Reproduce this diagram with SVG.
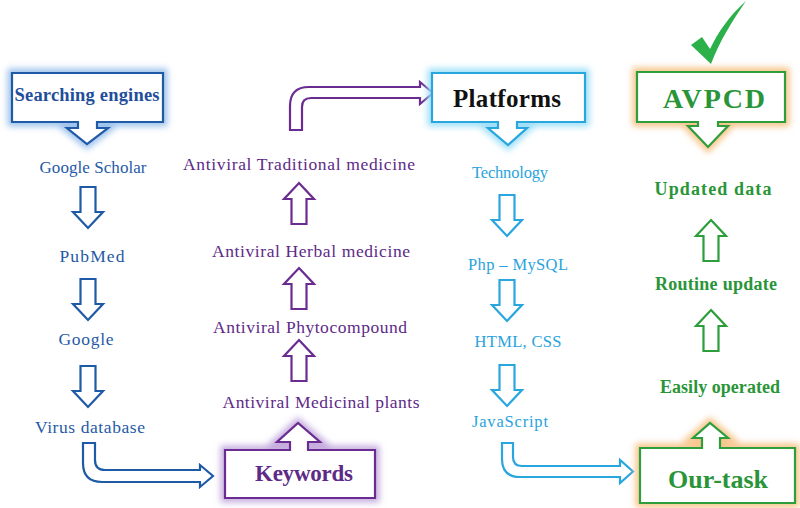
<svg xmlns="http://www.w3.org/2000/svg" xmlns:xlink="http://www.w3.org/1999/xlink" width="800" height="508" viewBox="0 0 800 508" font-family="'Liberation Serif', Tinos, 'Times New Roman', Times, serif">
<defs>
<style>
text{font-family:'Liberation Serif',Tinos,'Times New Roman',Times,serif;text-anchor:middle}
.b{font-weight:bold}
.blue{fill:#fff;stroke:#1f5aa6;stroke-width:2.2}
.purple{fill:#fff;stroke:#6a2c91;stroke-width:2.2}
.cyan{fill:#fff;stroke:#2aa6df;stroke-width:2.2}
.green{fill:#fff;stroke:#2e9e3c;stroke-width:2.2}
.tblue{fill:#1f5aa6}
.tpurple{fill:#5e2a88}
.tcyan{fill:#2aa3dc}
.tgreen{fill:#2a9538}
.glow{fill:none;stroke-width:9;filter:url(#blur)}
</style>
<filter id="blur" x="-20%" y="-30%" width="140%" height="160%"><feGaussianBlur stdDeviation="3"/></filter>
<path id="arDown" d="M-7.5,0 H7.5 V25 H15 L0,41 L-15,25 H-7.5 Z"/>
<path id="arUp" d="M0,0 L15,16 H7.5 V41 H-7.5 V16 H-15 Z"/>
</defs>
<rect width="800" height="508" fill="#fff"/>

<g id="connectors">
<use xlink:href="#arDown" x="88" y="187" class="blue"/>
<use xlink:href="#arDown" x="88" y="279" class="blue"/>
<use xlink:href="#arDown" x="88" y="366" class="blue"/>
<path class="blue" d="M83,443 H95 V460 Q95,470 105,470 H200 V465 L213,476 L200,487 V482 H102 Q83,482 83,463 Z"/>
<use xlink:href="#arUp" x="299" y="340" class="purple"/>
<use xlink:href="#arUp" x="299" y="268" class="purple"/>
<use xlink:href="#arUp" x="299" y="183" class="purple"/>
<path class="purple" d="M290,130 V106 Q290,87 309,87 H420 V82 L433,93 L420,104 V98 H311 Q302,98 302,107 V130 Z"/>
<use xlink:href="#arDown" x="507" y="195" class="cyan"/>
<use xlink:href="#arDown" x="507" y="280" class="cyan"/>
<use xlink:href="#arDown" x="507" y="365" class="cyan"/>
<path class="cyan" d="M502,443 H513 V457 Q513,466 522,466 H620 V460 L633,471.5 L620,483 V477 H520 Q502,477 502,459 Z"/>
<use xlink:href="#arUp" x="711" y="310" class="green"/>
<use xlink:href="#arUp" x="711" y="220" class="green"/>
</g>

<g id="searching-engines">
<path d="M12,73 H163 V122 H97 V128 H108 L87,144 L67,128 H78 V122 H12 Z" fill="#fff"/>
<path class="glow" stroke="#9fc3ec" d="M12,73 H163 V122 H97 V128 H108 L87,144 L67,128 H78 V122 H12 Z"/>
<path class="blue" stroke="#2b5797" stroke-width="3" fill="none" d="M12,73 H163 V122 H97 V128 H108 L87,144 L67,128 H78 V122 H12 Z"/>
<text class="b" x="87" y="101" font-size="18.5" fill="#1f4e9a" textLength="145" lengthAdjust="spacing">Searching engines</text>
</g>
<g id="google-scholar"><text class="tblue" x="93" y="173" font-size="17" textLength="107">Google Scholar</text></g>
<g id="pubmed"><text class="tblue" x="92" y="262" font-size="17.5" textLength="65">PubMed</text></g>
<g id="google"><text class="tblue" x="86" y="345" font-size="17.5" textLength="55">Google</text></g>
<g id="virus-database"><text class="tblue" x="90" y="433" font-size="17.5" textLength="110">Virus database</text></g>

<g id="keywords">
<path d="M225,450 H290 V442 H277 L298,423 L320,442 H308 V450 H375 V498 H225 Z" fill="#fff"/>
<path class="glow" stroke="#c6addf" d="M225,450 H290 V442 H277 L298,423 L320,442 H308 V450 H375 V498 H225 Z"/>
<path class="purple" stroke="#7030a0" stroke-width="3" fill="none" d="M225,450 H290 V442 H277 L298,423 L320,442 H308 V450 H375 V498 H225 Z"/>
<text class="b tpurple" x="304" y="481" font-size="23" textLength="98">Keywords</text>
</g>
<g id="medicinal-plants"><text class="tpurple" x="321" y="408" font-size="17.5" textLength="197">Antiviral Medicinal plants</text></g>
<g id="phytocompound"><text class="tpurple" x="310" y="333" font-size="17.5" textLength="194">Antiviral Phytocompound</text></g>
<g id="herbal-medicine"><text class="tpurple" x="311" y="257" font-size="17.5" textLength="198">Antiviral Herbal medicine</text></g>
<g id="traditional-medicine"><text class="tpurple" x="299" y="170" font-size="17.5" textLength="232">Antiviral Traditional medicine</text></g>

<g id="platforms">
<path d="M432,73 H585 V122 H517 V128 H527 L508,145 L488,128 H498 V122 H432 Z" fill="#fff"/>
<path class="glow" stroke="#9fe0f8" d="M432,73 H585 V122 H517 V128 H527 L508,145 L488,128 H498 V122 H432 Z"/>
<path class="cyan" stroke-width="3" fill="none" d="M432,73 H585 V122 H517 V128 H527 L508,145 L488,128 H498 V122 H432 Z"/>
<text class="b" x="507" y="107" font-size="25" fill="#111" textLength="108">Platforms</text>
</g>
<g id="technology"><text class="tcyan" x="510" y="178" font-size="16.5" textLength="76">Technology</text></g>
<g id="php-mysql"><text class="tcyan" x="518" y="270" font-size="16.5" textLength="100">Php – MySQL</text></g>
<g id="html-css"><text class="tcyan" x="518" y="347" font-size="16.5" textLength="87">HTML, CSS</text></g>
<g id="javascript"><text class="tcyan" x="510" y="427" font-size="16.5" textLength="76">JavaScript</text></g>

<g id="avpcd">
<path d="M691,45 L702,37 L710,49 C718,32 730,15 746,1 C733,20 720,40 711,64 Z" fill="#2bb04a"/>
<path d="M637,72 H785 V122 H718 V126 H728 L708,147 L688,126 H698 V122 H637 Z" fill="#fff"/>
<path class="glow" stroke="#f7c48a" d="M637,72 H785 V122 H718 V126 H728 L708,147 L688,126 H698 V122 H637 Z"/>
<path class="green" stroke-width="3" fill="none" d="M637,72 H785 V122 H718 V126 H728 L708,147 L688,126 H698 V122 H637 Z"/>
<text class="b tgreen" x="714" y="108" font-size="28" textLength="102">AVPCD</text>
</g>
<g id="updated-data"><text class="b tgreen" x="713" y="195" font-size="18" textLength="117">Updated data</text></g>
<g id="routine-update"><text class="b tgreen" x="716" y="290" font-size="18" textLength="122">Routine update</text></g>
<g id="easily-operated"><text class="b tgreen" x="720" y="393" font-size="18" textLength="120">Easily operated</text></g>
<g id="our-task">
<path d="M640,448 H702 V438 H693 L710,423 L728,438 H720 V448 H795 V503 H640 Z" fill="#fff"/>
<path class="glow" stroke="#f7c48a" d="M640,448 H702 V438 H693 L710,423 L728,438 H720 V448 H795 V503 H640 Z"/>
<path class="green" stroke-width="3" fill="none" d="M640,448 H702 V438 H693 L710,423 L728,438 H720 V448 H795 V503 H640 Z"/>
<text class="b tgreen" x="718" y="488" font-size="26" textLength="100">Our-task</text>
</g>
</svg>
